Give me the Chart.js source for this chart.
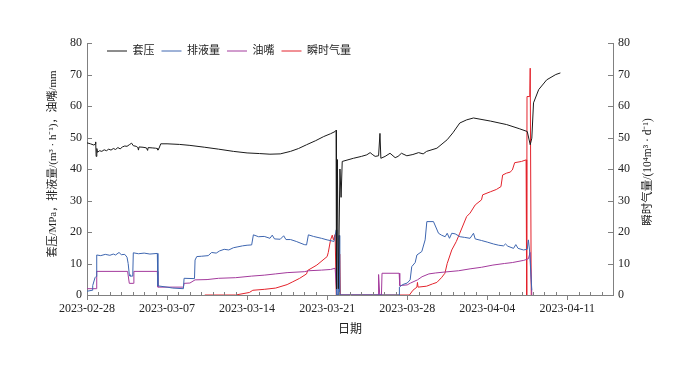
<!DOCTYPE html>
<html>
<head>
<meta charset="utf-8">
<script src="https://cdn.jsdelivr.net/npm/chart.js@4.4.0/dist/chart.umd.min.js"></script>
<style>
  html, body { margin: 0; padding: 0; background: #fff; }
</style>
</head>
<body>
<canvas id="chart" width="700" height="381"></canvas>
<script>
// ---------------- data (x = days since 2023-02-28) ----------------
const seriesNames = ['套压', '排液量', '油嘴', '瞬时气量'];
const tickDays = [0, 7, 14, 21, 28, 35, 42];
const tickLabels = ['2023-02-28', '2023-03-07', '2023-03-14', '2023-03-21', '2023-03-28', '2023-04-04', '2023-04-11'];
const xMax = 46;

// 套压 MPa
const casingDays = [0, 0.3, 0.6, 0.72, 0.76, 0.8, 0.86, 0.92, 1.1, 1.3, 1.5, 1.7, 1.9, 2.1, 2.3, 2.5, 2.7, 2.9, 3.1, 3.3, 3.5, 3.7, 3.9,
  4.05, 4.3, 4.45, 4.5, 4.55, 4.9, 5.2, 5.3, 5.35, 5.7, 6.0, 6.15, 6.2, 6.3, 6.45, 7.0, 8.1, 9.0, 10.3, 11.5, 12.8, 14.0, 15.1,
  16.0, 16.9, 17.8, 18.5, 19.2, 20.0, 20.7, 21.3, 21.7, 21.78, 21.82, 21.9, 21.98, 22.12, 22.22, 22.32, 23.3, 24.0, 24.47, 24.76,
  25.0, 25.2, 25.5, 25.62, 25.7, 26.07, 26.5, 26.95, 27.2, 27.5, 27.97, 28.5, 29.0, 29.4, 29.7, 30.6, 31.5, 32.0, 32.6, 33.2, 33.8,
  35.3, 36.7, 37.8, 38.5, 38.65, 38.76, 38.9, 39.05, 39.5, 40.2, 41.0, 41.4];
const casingPressure = [48.3, 48.0, 47.6, 47.9, 48.6, 44.0, 46.5, 45.3, 45.8, 45.6, 46.1, 45.8, 46.3, 46.0, 46.5, 46.2, 46.8, 46.4, 47.0, 47.3, 47.2, 47.7, 48.2,
  47.4, 47.2, 46.8, 46.0, 47.0, 46.9, 46.7, 45.9, 46.8, 46.7, 46.6, 46.5, 46.0, 46.6, 48.0, 48.0, 47.8, 47.5, 46.9, 46.3, 45.6, 45.1, 44.9,
  44.7, 44.8, 45.6, 46.5, 47.7, 49.0, 50.3, 51.2, 51.9, 52.3, 2, 43, 2, 40, 31, 42.4, 43.4, 44.0, 44.5, 45.2,
  44.5, 44.0, 44.2, 51.3, 43.4, 44.0, 45.0, 43.6, 44.0, 45.0, 44.2, 44.6, 45.2, 44.8, 45.6, 46.6, 49.3, 51.5, 54.6, 55.6, 56.2,
  55.2, 54.1, 52.8, 51.9, 49.5, 47.7, 49.8, 61, 65.2, 68.3, 70.0, 70.5];

// 排液量 m3/h
const liquidDays = [0, 0.45, 0.5, 0.7, 0.8, 0.85, 1.2, 1.6, 2.0, 2.3, 2.5, 2.8, 3.0, 3.3, 3.5, 3.6, 3.7, 3.76, 4.0, 4.05, 4.5, 5.0, 5.5, 6.15,
  6.2, 7.0, 7.5, 8.43, 8.49, 9.4, 9.45, 9.6, 10.0, 10.6, 10.9, 11.3, 11.6, 12.0, 12.4, 12.8, 13.2, 13.6, 14.0, 14.4, 14.55, 15.0, 15.5,
  16.0, 16.2, 16.4, 16.9, 17.2, 17.4, 17.8, 18.3, 19.0, 19.2, 19.36, 19.8, 20.5, 21.0, 21.26, 21.6, 21.8, 21.85, 22.0, 22.05, 22.1,
  27.3, 27.32, 27.6, 28.0, 28.26, 28.4, 28.7, 28.85, 29.28, 29.57, 29.72, 30.3, 30.74, 31.0, 31.32, 31.5, 31.7, 31.9, 32.2, 32.63,
  33.0, 33.5, 33.8, 33.95, 34.5, 35.0, 35.55, 36.0, 36.42, 36.6, 36.8, 37.3, 37.5, 37.7, 38.17, 38.5, 38.6, 38.7, 38.9];
const liquidRate = [1.2, 1.5, 3.0, 5.5, 5.9, 12.7, 12.5, 12.9, 12.6, 13.0, 12.7, 13.5, 12.8, 12.9, 12.0, 10.0, 6.5, 6.0, 6.0, 13.4, 13.1, 13.3, 13.0, 13.2,
  2.9, 2.5, 2.2, 2.0, 5.3, 5.2, 11.1, 12.2, 12.3, 12.5, 13.5, 13.3, 14.0, 14.5, 14.3, 15.0, 15.3, 15.6, 15.8, 15.9, 19.1, 18.5, 18.6,
  18.0, 19.0, 17.8, 17.7, 18.8, 17.6, 17.6, 17.0, 16.0, 15.9, 19.1, 18.6, 18.0, 17.5, 17.3, 17.0, 20.7, 0, 0, 18.9, 0,
  0, 2.5, 3.3, 3.8, 4.8, 9.0, 10.3, 12.7, 13.8, 17.5, 23.3, 23.3, 19.6, 19.0, 18.5, 19.6, 18.0, 19.6, 19.4, 18.5,
  18.3, 18.0, 19.6, 17.8, 17.3, 16.8, 16.2, 15.8, 15.6, 16.2, 15.5, 14.8, 16.0, 14.8, 14.3, 14.5, 17.5, 14.3, 1.5];

// 油嘴 mm
const chokeDays = [0, 0.8, 0.85, 3.55, 3.7, 4.05, 4.1, 6.15, 6.2, 8.43, 8.49, 9.0, 9.45, 10.5, 11.5, 13.0, 14.4, 15.5, 16.5, 17.5, 19.0, 19.4,
  20.5, 21.3, 21.7, 21.85, 25.45, 25.5, 25.6, 25.75, 25.8, 27.3, 27.35, 28.0, 28.3, 28.9, 29.3, 29.9, 30.5, 31.3, 32.5, 33.5, 34.5,
  35.5, 36.5, 37.2, 38.2, 38.6, 38.75, 38.9];
const chokeSize = [2.0, 2.0, 7.5, 7.5, 3.7, 3.7, 7.5, 7.5, 2.5, 2.5, 3.7, 3.8, 4.8, 4.9, 5.3, 5.5, 6.0, 6.3, 6.7, 7.1, 7.4, 7.7,
  7.9, 8.1, 8.5, 0, 0, 6.5, 0, 0, 6.9, 6.9, 3.0, 3.2, 3.8, 4.8, 5.8, 6.7, 7.0, 7.3, 7.7, 8.3, 8.8,
  9.5, 10.0, 10.3, 11.0, 11.5, 13.5, 0];

// 瞬时气量 10^4 m3/d (right axis)
const gasDays = [10.3, 13.0, 14.2, 14.5, 15.5, 16.5, 17.5, 18.0, 18.6, 19.2, 19.3, 20.1, 21.0, 21.1, 21.3, 21.45, 21.55, 21.7, 21.8,
  22.05, 22.1, 22.15, 28.2, 28.5, 28.85, 28.9, 28.95, 29.7, 30.2, 30.6, 31.0, 31.3, 31.5, 31.9, 32.3, 32.6, 33.2, 33.5, 33.95,
  34.5, 34.6, 35.3, 35.8, 36.2, 36.35, 36.7, 37.0, 37.2, 37.4, 38.0, 38.4, 38.45, 38.48, 38.72, 38.76, 38.8, 38.85];
const gasRate = [0, 0, 0.8, 1.5, 1.8, 2.2, 3.3, 4.2, 5.3, 6.7, 7.8, 9.5, 12.2, 13.5, 17.5, 19.0, 17.5, 19.2, 0,
  0, 13, 0, 0, 1.5, 2.5, 4.0, 2.5, 2.8, 3.5, 4.0, 5.5, 6.9, 10.0, 14.3, 17.0, 19.6, 24.9, 26.0, 28.6,
  30.2, 31.8, 32.8, 33.5, 34.4, 38.1, 38.7, 39.0, 39.7, 42.0, 42.4, 42.9, 0, 63, 63, 72, 72, 0];

const colors = ['#1a1a1a', '#3e66b0', '#a33a9c', '#e3232c'];
const axisColor = '#808080';
const serif = '"Liberation Serif", "Noto Sans CJK SC", serif';

const pts = (xs, ys) => xs.map((d, i) => ({ x: d, y: ys[i] }));

// ---------------- 轴刻度 / 标题 / 图例位置 ----------------
const axisDecor = {
  id: 'axisDecor',
  beforeLayout(chart) {
    // legend drawn inside the plot, so it must not take layout space
    const lg = chart.legend;
    if (lg && !lg._noSpace) {
      const fit = lg.fit;
      lg.fit = function () { fit.call(this); this.height = 0; };
      lg._noSpace = true;
    }
  },
  afterLayout(chart) {
    const lg = chart.legend;
    const a = chart.chartArea;
    if (lg) {
      lg.left = a.left + 13;
      lg.right = a.right;
      lg.top = a.top - 4.5;
      lg.bottom = lg.top + 30;
      lg.width = lg.right - lg.left;
      lg.height = 30;
    }
  },
  afterDraw(chart) {
    const { ctx, chartArea: a, scales } = chart;
    ctx.save();
    ctx.strokeStyle = axisColor;
    ctx.lineWidth = 1;
    ctx.beginPath();
    for (let d = 0; d <= xMax; d++) {
      const px = Math.round(scales.x.getPixelForValue(d)) + 0.5;
      if (tickDays.includes(d)) { ctx.moveTo(px, a.bottom); ctx.lineTo(px, a.bottom + 5); }
      else { ctx.moveTo(px, a.bottom); ctx.lineTo(px, a.bottom - 3); }
    }
    for (let v = 0; v <= 80; v += 10) {
      const py = Math.round(scales.y.getPixelForValue(v)) + 0.5;
      ctx.moveTo(a.left, py); ctx.lineTo(a.left + 5, py);
      const py1 = Math.round(scales.y1.getPixelForValue(v)) + 0.5;
      ctx.moveTo(a.right, py1); ctx.lineTo(a.right - 5, py1);
    }
    ctx.stroke();

    ctx.fillStyle = '#222';
    ctx.font = '12px ' + serif;
    ctx.textAlign = 'center';
    ctx.textBaseline = 'middle';
    ctx.fillText('日期', (a.left + a.right) / 2, 330);

    ctx.font = '11px ' + serif;
    ctx.translate(53, 164);
    ctx.rotate(-Math.PI / 2);
    ctx.fillText('套压/MPa，排液量/(m³ · h⁻¹)，油嘴/mm', 0, 0);
    ctx.restore();

    ctx.save();
    ctx.fillStyle = '#222';
    ctx.font = '11.5px ' + serif;
    ctx.textAlign = 'center';
    ctx.textBaseline = 'middle';
    ctx.translate(648, 172);
    ctx.rotate(-Math.PI / 2);
    ctx.fillText('瞬时气量/(10⁴m³ · d⁻¹)', 0, 0);
    ctx.restore();
  }
};

const ds = (label, xs, ys, color, axis) => ({
  label: label,
  data: pts(xs, ys),
  borderColor: color,
  backgroundColor: color,
  borderWidth: 1,
  pointRadius: 0,
  tension: 0,
  yAxisID: axis
});

new Chart(document.getElementById('chart').getContext('2d'), {
  type: 'line',
  data: {
    datasets: [
      ds(seriesNames[0], casingDays, casingPressure, colors[0], 'y'),
      ds(seriesNames[1], liquidDays, liquidRate, colors[1], 'y'),
      ds(seriesNames[2], chokeDays, chokeSize, colors[2], 'y'),
      ds(seriesNames[3], gasDays, gasRate, colors[3], 'y1')
    ]
  },
  options: {
    responsive: false,
    animation: false,
    devicePixelRatio: 1,
    layout: { padding: { top: 43, left: 0, right: 0, bottom: 0 } },
    plugins: {
      tooltip: { enabled: false },
      legend: {
        position: 'top',
        align: 'start',
        labels: {
          usePointStyle: true,
          pointStyle: 'line',
          pointStyleWidth: 20,
          padding: 7,
          color: '#222',
          font: { size: 11, family: serif }
        }
      }
    },
    scales: {
      x: {
        type: 'linear',
        min: 0,
        max: xMax,
        afterFit: s => { s.height = 86; },
        afterBuildTicks: s => { s.ticks = tickDays.map(v => ({ value: v })); },
        grid: { display: false, drawTicks: false },
        border: { display: true, color: axisColor },
        ticks: {
          autoSkip: false,
          maxRotation: 0,
          padding: 7,
          color: '#222',
          font: { size: 12, family: serif },
          callback: v => tickLabels[tickDays.indexOf(v)]
        }
      },
      y: {
        position: 'left',
        min: 0,
        max: 80,
        afterFit: s => { s.width = 87; },
        grid: { display: false, drawTicks: false },
        border: { display: true, color: axisColor },
        ticks: { stepSize: 10, padding: 5, color: '#222', font: { size: 12, family: serif } }
      },
      y1: {
        position: 'right',
        min: 0,
        max: 80,
        afterFit: s => { s.width = 87; },
        grid: { display: false, drawTicks: false },
        border: { display: true, color: axisColor },
        ticks: { stepSize: 10, padding: 5, color: '#222', font: { size: 12, family: serif } }
      }
    }
  },
  plugins: [axisDecor]
});
</script>
</body>
</html>
